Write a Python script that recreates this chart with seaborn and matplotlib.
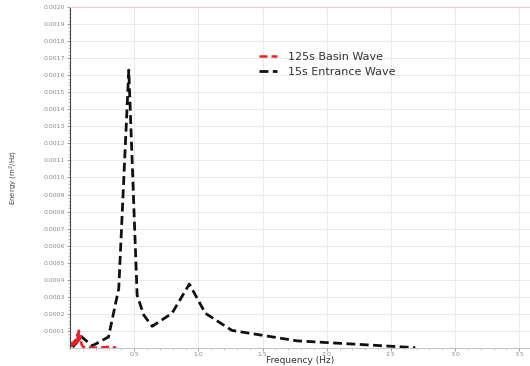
import pandas as pd
import numpy as np
import matplotlib.pyplot as plt
import seaborn as sns
from matplotlib.ticker import MultipleLocator, FormatStrFormatter

sns.set_style('whitegrid')
plt.rcParams['font.family'] = ['DejaVu Sans']

# 15s entrance wave spectrum
entrance_freq = [0.02, 0.05, 0.087, 0.13, 0.173, 0.24, 0.30, 0.38, 0.458,
                 0.523, 0.574, 0.640, 0.795, 0.930, 1.054, 1.262, 1.768,
                 1.975, 2.69]
entrance_energy = [0.000005, 0.00003, 0.000068, 0.00004, 0.000013, 0.00004,
                   0.000065, 0.00035, 0.00163, 0.00031, 0.000194, 0.000127,
                   0.000204, 0.000375, 0.000204, 0.000103, 0.000042,
                   0.000033, 0.000002]

# 125s basin wave spectrum
basin_freq = [0.005, 0.012, 0.02, 0.028, 0.035, 0.042, 0.05, 0.057, 0.064,
              0.069, 0.075, 0.082, 0.09, 0.1, 0.12, 0.16, 0.2, 0.25, 0.29,
              0.31, 0.33, 0.36]
basin_energy = [0.000008, 0.00003, 0.000015, 0.000045, 0.00002, 0.00006,
                0.00003, 0.00008, 0.00004, 0.000102, 0.00005, 0.00007,
                0.00002, 0.000008, 0.000004, 0.000003, 0.000002, 0.000003,
                0.000006, 0.000009, 0.000005, 0.000002]

fig = plt.figure(figsize=(5.3, 3.66), dpi=100)
ax = fig.add_axes([70 / 530, 18 / 366, 460 / 530, 341 / 366])

sns.lineplot(x=entrance_freq, y=entrance_energy, ax=ax, color='#111111',
             linewidth=2.0, label='15s Entrance Wave')
sns.lineplot(x=basin_freq, y=basin_energy, ax=ax, color='#e8202a',
             linewidth=1.8, label='125s Basin Wave')
for line in ax.get_lines():
    line.set_dashes([3.2, 1.6])

ax.set_xlim(0, 3.584)
ax.set_ylim(0, 0.0020)
ax.xaxis.set_minor_locator(MultipleLocator(0.1))
ax.yaxis.set_minor_locator(MultipleLocator(0.00002))
ax.set_xticks(list(np.arange(0.5, 3.51, 0.5)))
ax.set_yticks([round(v, 4) for v in np.arange(0.0001, 0.00201, 0.0001)])
ax.xaxis.set_major_formatter(FormatStrFormatter('%.1f'))
ax.yaxis.set_major_formatter(FormatStrFormatter('%.4f'))

ax.tick_params(axis='both', which='major', labelsize=4.5, labelcolor='#8a8a8a',
               length=2, width=0.5, color='#777777', pad=1.5, bottom=True, left=True)
ax.tick_params(axis='x', which='major', pad=1)
ax.tick_params(axis='both', which='minor', length=1.2, width=0.4, color='#999999',
               bottom=True, left=True)

ax.grid(True, which='major', color='#e6e6e6', linewidth=0.6)
ax.set_facecolor('white')
ax.spines['left'].set_color('#444444')
ax.spines['left'].set_linewidth(0.8)
ax.spines['bottom'].set_color('#bbbbbb')
ax.spines['bottom'].set_linewidth(0.6)
ax.spines['top'].set_color('#f0c8c8')
ax.spines['top'].set_linewidth(0.8)
ax.spines['right'].set_visible(False)

# x label sits right at the bottom edge, as in the reference
fig.text(0.566, 0.003, 'Frequency (Hz)', fontsize=6.5, color='#333333',
         ha='center', va='bottom')
ax.set_ylabel('Energy (m$^2$/Hz)', fontsize=5, color='#444444', labelpad=17)

handles, labels = ax.get_legend_handles_labels()
leg = ax.legend(handles[::-1], labels[::-1], loc='upper left',
                bbox_to_anchor=(0.39, 0.897), frameon=False, fontsize=8,
                handlelength=1.6, handletextpad=1.0, labelspacing=0.45)
for t in leg.get_texts():
    t.set_color('#333333')

plt.savefig('out.png', dpi=100)
